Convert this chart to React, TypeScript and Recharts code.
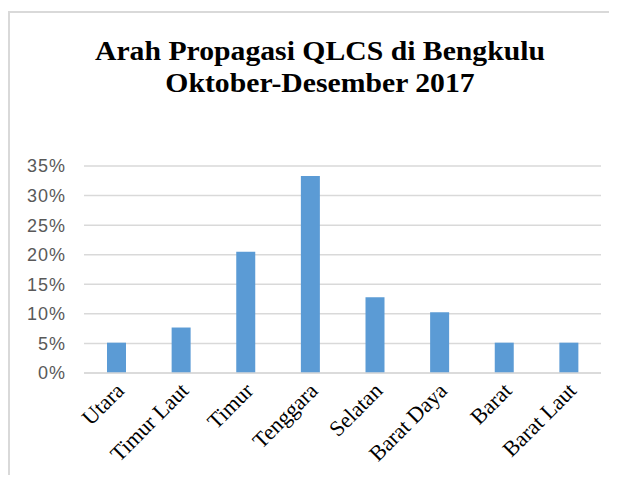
import React from "react";
import { BarChart, Bar, XAxis, YAxis, CartesianGrid } from "recharts";

const ARAH = ["Utara", "Timur Laut", "Timur", "Tenggara", "Selatan", "Barat Daya", "Barat", "Barat Laut"];
const PERSEN = [5.13, 7.69, 20.51, 33.33, 12.82, 10.26, 5.13, 5.13];
const Y_TICKS = [0, 5, 10, 15, 20, 25, 30, 35];

const data = ARAH.map((name, i) => ({ name, value: PERSEN[i] }));

const XTick = (props: any) => {
  const { x, y, payload } = props;
  const ax = x + 9;
  const ay = y + 11;
  return (
    <text
      x={ax}
      y={ay}
      textAnchor="end"
      transform={`rotate(-45, ${ax}, ${ay})`}
      fontFamily="'Liberation Serif', 'Times New Roman', serif"
      fontSize={22}
      fill="#000"
    >
      {payload.value}
    </text>
  );
};

export default function App() {
  return (
    <div style={{ position: "relative", width: 617, height: 483, margin: -8, background: "#fff", overflow: "hidden" }}>
      <div
        style={{
          position: "absolute",
          left: 8,
          top: 11,
          width: 700,
          height: 600,
          borderLeft: "2px solid #d9d9d9",
          borderTop: "2px solid #d9d9d9",
        }}
      />
      {/* title, slightly wide like the source */}
      <div
        style={{
          position: "absolute",
          left: 0,
          top: 35,
          width: 640,
          textAlign: "center",
          fontFamily: "'Liberation Serif', 'Times New Roman', serif",
          fontWeight: "bold",
          fontSize: 27,
          lineHeight: "32px",
          color: "#000",
          transform: "scaleX(1.1)",
          transformOrigin: "320px 0",
        }}
      >
        Arah Propagasi QLCS di Bengkulu
        <br />
        Oktober-Desember 2017
      </div>
      <div style={{ position: "absolute", left: 0, top: 0 }}>
        <BarChart
          width={617}
          height={483}
          data={data}
          margin={{ top: 166, right: 16, left: 0, bottom: 0 }}
          barSize={19}
        >
          <CartesianGrid vertical={false} stroke="#d9d9d9" strokeWidth={1.5} />
          <XAxis
            dataKey="name"
            height={110}
            interval={0}
            tick={<XTick />}
            tickLine={false}
            axisLine={{ stroke: "#d9d9d9", strokeWidth: 1.5 }}
          />
          <YAxis
            width={84}
            domain={[0, 35]}
            ticks={Y_TICKS}
            tickFormatter={(v) => `${v}%`}
            tickLine={false}
            axisLine={false}
            tickSize={0}
            tickMargin={18}
            tick={{ fill: "#595959", fontSize: 18, letterSpacing: 1, fontFamily: "'Liberation Sans', Arial, sans-serif" }}
          />
          <Bar dataKey="value" fill="#5b9bd5" isAnimationActive={false} />
        </BarChart>
      </div>
    </div>
  );
}
